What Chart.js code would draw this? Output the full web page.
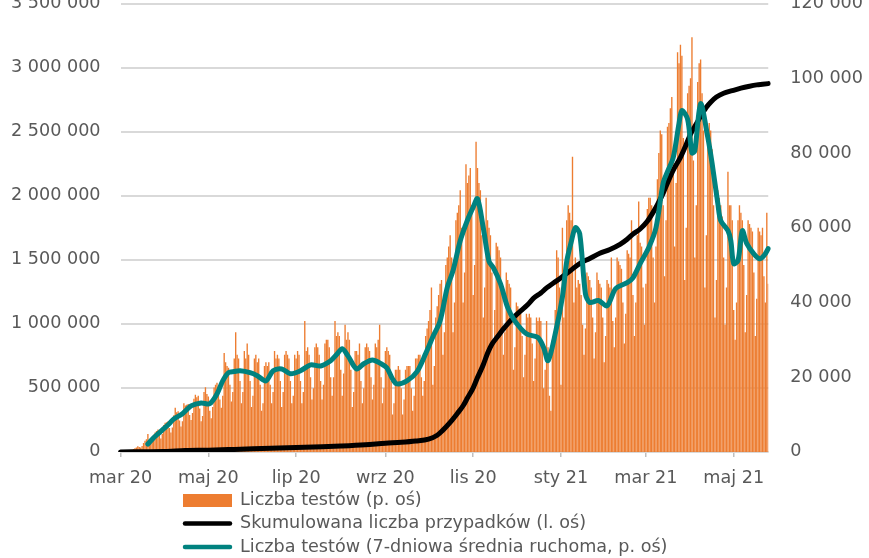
<!DOCTYPE html>
<html>
<head>
<meta charset="utf-8">
<script src="https://cdn.jsdelivr.net/npm/chart.js@4.4.1/dist/chart.umd.min.js"></script>
<style>
  html, body { margin: 0; padding: 0; background: #fff; overflow: hidden; }
  #frame { position: relative; width: 869px; height: 558px; overflow: hidden; }
  #myChart { position: absolute; left: 0; top: -29px; }
</style>
</head>
<body>
<div id="frame"><canvas id="myChart" width="869" height="587"></canvas></div>
<script>
// daily number of tests (thousands), from 1 March 2020, one row per week (Sun..Sat)
const testsK = [
    0.1, 0.1, 0.2, 0.2, 0.3, 0.3, 0.3,
    0.4, 0.5, 0.8, 1.0, 1.2, 1.5, 1.3,
    1.2, 1.6, 2.4, 3.0, 3.4, 4.8, 3.0,
    2.4, 3.4, 4.6, 5.2, 5.6, 6.0, 4.8,
    3.6, 4.8, 7.2, 7.8, 7.9, 8.2, 6.4,
    5.2, 6.5, 9.8, 11.8, 10.6, 10.9, 8.4,
    6.8, 8.2, 13.0, 12.4, 12.6, 12.8, 9.9,
    8.5, 10.4, 14.2, 15.3, 14.6, 15.0, 11.6,
    8.2, 9.6, 16.0, 17.3, 15.5, 14.8, 11.0,
    9.0, 12.0, 17.2, 18.0, 18.5, 17.5, 14.0,
    11.8, 15.0, 26.5, 24.0, 23.0, 22.5, 18.0,
    13.5, 16, 25, 32, 26, 25, 19,
    13, 16, 27, 25, 29, 26, 19,
    12, 15, 25, 26, 24, 25, 18,
    11, 13, 23, 24, 23, 24, 18,
    13, 16, 27, 25, 26, 25, 19,
    12, 16, 26, 27, 26, 25, 19,
    13, 15, 26, 25, 27, 26, 19,
    13, 16, 35, 27, 28, 26, 20,
    14, 17, 28, 29, 28, 26, 19,
    14, 18, 29, 30, 30, 28, 20,
    15, 20, 35, 31, 32, 31, 22,
    15, 21, 34, 30, 32, 30, 22,
    12, 16, 27, 27, 26, 29, 19,
    13, 17, 28, 29, 28, 27, 20,
    14, 18, 29, 28, 30, 34, 20,
    13, 17, 27, 28, 27, 26, 19,
    10, 13, 22, 22, 23, 22, 17,
    10, 14, 22, 23, 23, 23, 17,
    11, 15, 25, 25, 26, 26, 20,
    15, 19, 31, 33, 35, 38, 44,
    18, 23, 36, 39, 42, 45, 46,
    26, 32, 50, 52, 55, 58, 52,
    32, 40, 62, 64, 66, 70, 60,
    40, 48, 77, 72, 74, 76, 66,
    42, 50, 83, 76, 72, 70, 58,
    36, 44, 68, 62, 60, 58, 48,
    30, 38, 56, 55, 54, 52, 44,
    26, 32, 48, 46, 45, 44, 37,
    22, 28, 40, 39, 38, 37, 31,
    20, 26, 37, 36, 37, 36, 29,
    19, 25, 36, 35, 36, 35, 28,
    17, 22, 35, 28, 15, 11, 30,
    28, 38, 54, 52, 44, 18, 60,
    36, 46, 62, 66, 64, 62, 79,
    40, 52, 44, 46, 45, 42, 34,
    26, 33, 48, 47, 46, 44, 36,
    25, 32, 48, 46, 45, 44, 36,
    24, 31, 46, 45, 44, 52, 35,
    28, 36, 52, 51, 50, 49, 40,
    29, 37, 54, 53, 52, 62, 42,
    31, 40, 58, 67, 56, 55, 44,
    34, 45, 65, 68, 68, 66, 52,
    40, 55, 73, 80, 86, 85, 66,
    47, 62, 87, 88, 92, 95, 78,
    55, 72, 107, 104, 109, 106, 84,
    46, 60, 96, 98, 100, 111, 78,
    52, 66, 99, 104, 105, 96, 86,
    44, 58, 86, 88, 86, 81, 66,
    36, 46, 70, 68, 66, 63, 52,
    34, 44, 75, 66, 66, 62, 38,
    30, 40, 62, 66, 64, 62, 50,
    32, 42, 62, 61, 60, 59, 48,
    31, 41, 60, 59, 58, 60, 47,
    40, 64, 45
];

// 7-day moving average of tests (thousands), read at these day numbers
const avgDays = [19, 23, 26, 30, 34, 37, 43, 49, 56, 62, 67, 71, 75, 79, 83, 90, 95, 101, 106, 112,
    118, 125, 132, 139, 146, 150, 154, 158, 164, 169, 175, 181, 185, 189, 192, 199, 206, 212, 217, 222,
    227, 231, 236, 241, 245, 248, 252, 256, 259, 264, 269, 274, 282, 290, 294, 297, 302, 307, 310, 313,
    316, 319, 323, 326, 332, 338, 344, 352, 356, 361, 367, 372, 377, 380, 384, 388, 390, 394, 397, 399,
    403, 408, 411, 415, 417, 422, 424, 426, 429, 432, 435, 440, 444, 447, 450];
const avgK = [2.1, 3.8, 4.8, 6.2, 7.6, 8.8, 10.2, 12.3, 13.1, 12.9, 15.5, 19, 21.2, 21.5, 21.7, 21.2, 20.4, 19, 21.7, 22.2,
    20.9, 21.7, 23.3, 23, 24.4, 26, 27.6, 25.7, 22.2, 23.6, 24.6, 23.6, 22.5, 19.5, 18.2, 19, 21.5, 26.3, 30.8, 35,
    44, 48.5, 56.5, 62, 65.5, 67.8, 60, 51, 49.3, 45, 38.6, 35, 31.6, 30.6, 27.9, 24.4, 31.6, 41.5, 51, 56,
    60, 58.4, 42.3, 40, 40.5, 39.1, 43.7, 45.3, 46.6, 50.4, 54.7, 60, 72, 75, 78.8, 87.9, 91.4, 89, 80, 80.6,
    93.2, 84.2, 77.2, 66.4, 61.9, 59.2, 56.5, 50.4, 51.2, 59.2, 55.8, 53, 51.7, 52.5, 54.4];

// cumulative number of cases (millions), read at these day numbers
const cumDays = [0, 30, 45, 61, 75, 92, 110, 122, 140, 153, 170, 184, 195, 205, 214, 220, 224, 229, 234, 238,
    241, 245, 248, 252, 255, 258, 262, 266, 269, 274, 278, 283, 287, 292, 296, 301, 306, 312, 319, 326,
    333, 340, 347, 352, 356, 361, 366, 370, 373, 377, 380, 384, 389, 393, 396, 400, 403, 407, 410, 414,
    419, 425, 431, 437, 442, 446, 450];
const cumM = [0, 0.002, 0.01, 0.013, 0.018, 0.024, 0.03, 0.034, 0.04, 0.046, 0.056, 0.068, 0.075, 0.085, 0.1, 0.13, 0.17, 0.23, 0.3, 0.36,
    0.42, 0.5, 0.58, 0.68, 0.77, 0.84, 0.9, 0.96, 1.0, 1.06, 1.1, 1.15, 1.2, 1.24, 1.28, 1.32, 1.36, 1.41, 1.47, 1.51,
    1.55, 1.58, 1.62, 1.66, 1.7, 1.74, 1.8, 1.87, 1.93, 2.02, 2.1, 2.2, 2.3, 2.4, 2.48, 2.56, 2.62, 2.69, 2.73, 2.77,
    2.8, 2.82, 2.84, 2.855, 2.865, 2.87, 2.875];

// x axis tick labels and the day they sit on
const tickLabels = ['mar 20', 'maj 20', 'lip 20', 'wrz 20', 'lis 20', 'sty 21', 'mar 21', 'maj 21'];
const tickDays = [0, 61, 122, 184, 245, 306, 365, 426];

const legendLabels = [
    'Liczba testów (p. oś)',
    'Skumulowana liczba przypadków (l. oś)',
    'Liczba testów (7-dniowa średnia ruchoma, p. oś)'
];

const ORANGE = '#ED7D31';
const TEAL = '#00827F';
const TEXT = '#595959';
const GRID = '#d9d9d9';
const FONT = { family: '"DejaVu Sans", sans-serif', size: 17.6 };

const startDate = Date.UTC(2020, 2, 1);
const dayLabels = testsK.map((_, i) => new Date(startDate + i * 86400000).toISOString().slice(0, 10));

function fmtSpace(v) {
    return String(v).replace(/\B(?=(\d{3})+(?!\d))/g, ' ');
}

// legend drawn as three left-aligned rows under the axis
const rowLegend = {
    id: 'rowLegend',
    afterDraw(chart) {
        const ctx = chart.ctx;
        const x0 = 183, symW = 49, textX = 240;
        const rows = [529.5, 552.5, 576];
        ctx.save();
        ctx.font = FONT.size + 'px ' + FONT.family;
        ctx.textBaseline = 'middle';
        legendLabels.forEach((label, i) => {
            const y = rows[i];
            if (i === 0) {
                ctx.fillStyle = ORANGE;
                ctx.fillRect(x0, y - 6.5, symW, 13);
            } else {
                ctx.strokeStyle = i === 1 ? '#000' : TEAL;
                ctx.lineWidth = 4.5;
                ctx.lineCap = 'round';
                ctx.beginPath();
                ctx.moveTo(x0 + 2, y);
                ctx.lineTo(x0 + symW - 2, y);
                ctx.stroke();
            }
            ctx.fillStyle = TEXT;
            ctx.fillText(label, textX, y);
        });
        ctx.restore();
    }
};

const ctx = document.getElementById('myChart').getContext('2d');
new Chart(ctx, {
    type: 'bar',
    data: {
        labels: dayLabels,
        datasets: [
            {
                type: 'line',
                label: legendLabels[2],
                data: avgDays.map((d, i) => ({ x: dayLabels[d], y: avgK[i] * 1000 })),
                yAxisID: 'y1',
                borderColor: TEAL,
                borderWidth: 5,
                pointRadius: 0,
                tension: 0.3,
                borderCapStyle: 'round',
                borderJoinStyle: 'round'
            },
            {
                type: 'line',
                label: legendLabels[1],
                data: cumDays.map((d, i) => ({ x: dayLabels[d], y: cumM[i] * 1000000 })),
                yAxisID: 'y',
                borderColor: '#000',
                borderWidth: 5,
                pointRadius: 0,
                cubicInterpolationMode: 'monotone',
                borderCapStyle: 'round'
            },
            {
                label: legendLabels[0],
                data: testsK.map(v => v * 1000),
                yAxisID: 'y1',
                backgroundColor: ORANGE,
                barPercentage: 0.95,
                categoryPercentage: 1
            }
        ]
    },
    options: {
        responsive: false,
        animation: false,
        devicePixelRatio: 1,
        layout: { padding: { left: -9, right: -16, top: 0, bottom: 58 } },
        plugins: {
            legend: { display: false },
            tooltip: { enabled: false }
        },
        scales: {
            x: {
                type: 'category',
                offset: false,
                grid: { display: true, drawOnChartArea: false, offset: false, tickLength: 5, color: '#bfbfbf', lineWidth: 1.5 },
                border: { display: true, color: GRID, width: 2 },
                ticks: {
                    autoSkip: false,
                    maxRotation: 0,
                    minRotation: 0,
                    padding: 11,
                    color: TEXT,
                    font: FONT,
                    callback: (value, index) => {
                        const k = tickDays.indexOf(index);
                        return k >= 0 ? tickLabels[k] : null;
                    }
                }
            },
            y: {
                position: 'left',
                min: 0,
                max: 3500000,
                grid: { color: GRID, lineWidth: 2, drawTicks: false },
                border: { display: false },
                ticks: { stepSize: 500000, padding: 20, color: TEXT, font: FONT, callback: v => fmtSpace(v) }
            },
            y1: {
                position: 'right',
                min: 0,
                max: 120000,
                grid: { display: false, drawTicks: false },
                border: { display: false },
                ticks: { stepSize: 20000, padding: 22, color: TEXT, font: FONT, callback: v => fmtSpace(v) }
            }
        }
    },
    plugins: [rowLegend]
});
</script>
</body>
</html>
